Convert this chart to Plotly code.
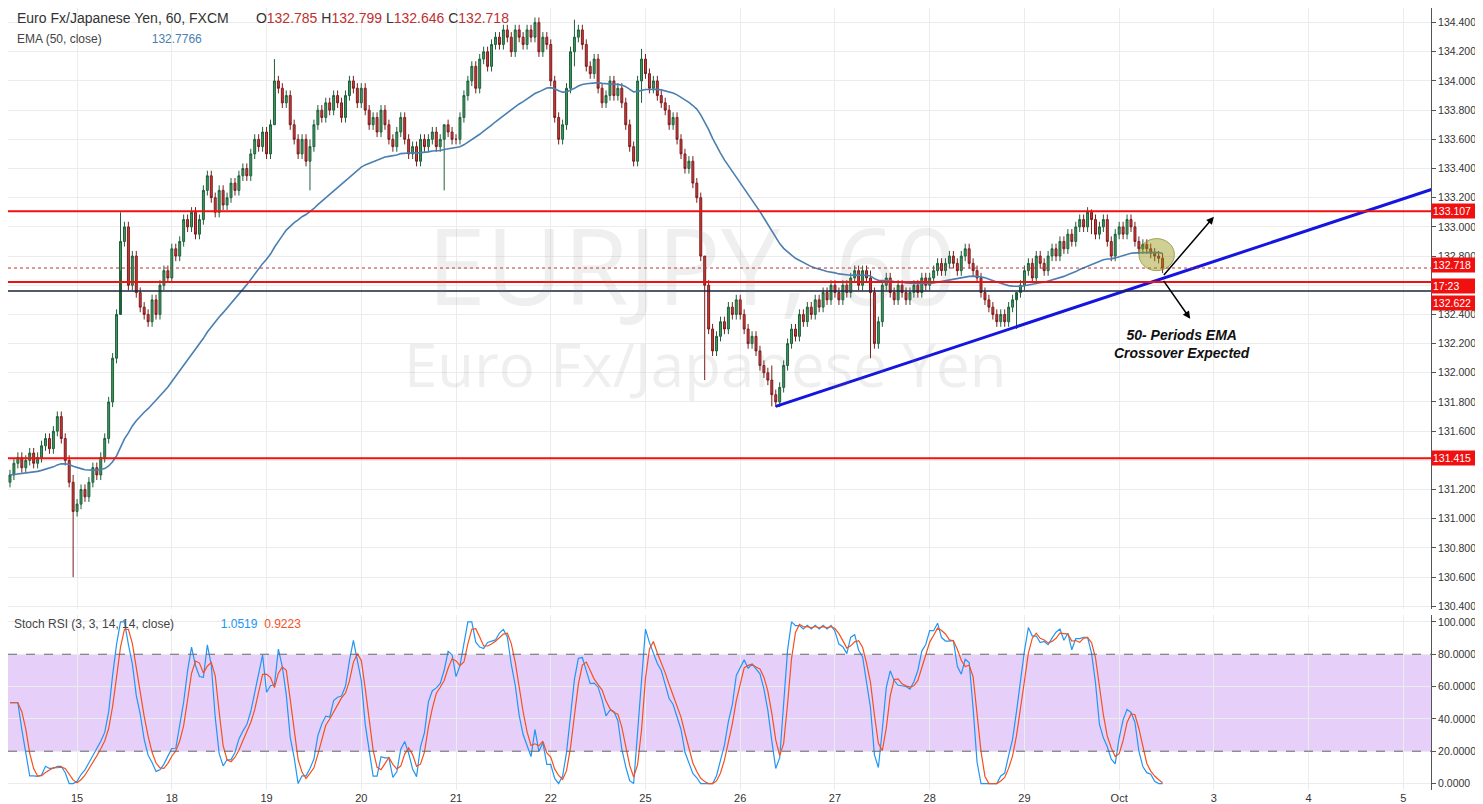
import numpy as np
import pandas as pd
import plotly.graph_objects as go
from plotly.subplots import make_subplots

# hourly closes, EUR/JPY 60 min (index 0 ~ Sep 14 07:00)
closes = [
    131.30, 131.38, 131.42, 131.35, 131.40, 131.45, 131.38, 131.42, 131.50, 131.55, 131.48, 131.60,
    131.70, 131.55, 131.40, 131.25, 131.05,
    131.10, 131.20, 131.15, 131.25, 131.35, 131.30, 131.42, 131.55, 131.80, 132.10, 132.40, 132.90, 133.00,
    132.60, 132.80, 132.55, 132.45, 132.40, 132.35, 132.50, 132.40, 132.60, 132.70, 132.65,
    132.85, 132.80, 132.90, 133.05, 133.00, 133.10, 132.95, 133.05, 133.25, 133.35, 133.20, 133.10,
    133.25, 133.15, 133.20, 133.30, 133.25, 133.35, 133.40, 133.35, 133.50, 133.60, 133.55, 133.65,
    133.50, 133.70, 134.00, 133.95, 133.85, 133.90, 133.70, 133.60, 133.50, 133.60, 133.45, 133.55,
    133.70, 133.80, 133.75, 133.85, 133.80, 133.90, 133.85, 133.75, 133.90, 134.00, 133.95, 133.85,
    133.95, 133.80, 133.70, 133.75, 133.65, 133.80, 133.70, 133.60, 133.55, 133.65, 133.75, 133.60,
    133.50, 133.55, 133.45, 133.60, 133.55, 133.60, 133.65, 133.55, 133.60, 133.70, 133.65, 133.60,
    133.60, 133.75, 133.90, 134.00, 134.10, 133.95, 134.15, 134.20, 134.10, 134.25, 134.30, 134.25,
    134.35, 134.30, 134.20, 134.35, 134.30, 134.25, 134.35, 134.30, 134.40, 134.20, 134.30, 134.25,
    134.00, 133.75, 133.60, 133.70, 133.95, 134.20, 134.30, 134.35, 134.25, 134.10, 134.05, 134.15,
    133.95, 133.85, 133.90, 134.00, 133.90, 133.95, 133.85, 133.70, 133.55, 133.45, 134.00, 134.15,
    134.05, 133.95, 134.00, 133.90, 133.85, 133.80, 133.70, 133.75, 133.60, 133.50, 133.40, 133.45,
    133.30, 133.20, 132.80, 132.60, 132.30, 132.15, 132.25, 132.35, 132.30, 132.45, 132.40, 132.50,
    132.40, 132.30, 132.20, 132.25, 132.15, 132.05, 132.00, 131.95, 131.85, 131.80, 131.90, 132.05,
    132.20, 132.30, 132.25, 132.40, 132.35, 132.45, 132.40, 132.50, 132.45, 132.55, 132.50, 132.60,
    132.55, 132.50, 132.60, 132.55, 132.65, 132.70, 132.60, 132.70, 132.65, 132.55, 132.20, 132.35,
    132.60, 132.65, 132.55, 132.50, 132.60, 132.55, 132.50, 132.55, 132.60, 132.55, 132.65, 132.60,
    132.65, 132.70, 132.75, 132.70, 132.75, 132.80, 132.75, 132.70, 132.80, 132.85, 132.75, 132.70,
    132.65, 132.55, 132.50, 132.45, 132.40, 132.35, 132.40, 132.35, 132.45, 132.50, 132.55, 132.60,
    132.70, 132.75, 132.65, 132.80, 132.75, 132.70, 132.80, 132.85, 132.80, 132.90, 132.85, 132.95,
    132.90, 133.00, 133.05, 133.00, 133.10, 133.05, 132.95, 133.00, 133.05, 132.90, 132.80, 132.95,
    133.00, 132.95, 133.05, 133.00, 132.90, 132.85, 132.88, 132.85, 132.82, 132.80, 132.785, 132.718,
]
first_open = 131.25
wick = 0.035
# extra long wicks: index -> (high, low)
spikes = {16: (131.30, 130.60), 28: (133.10, 132.70), 67: (134.15, 133.70), 76: (133.60, 133.25),
          110: (133.70, 133.25), 143: (134.42, 134.10), 160: (134.22, 133.85), 176: (132.80, 131.95),
          193: (132.05, 131.77), 218: (132.70, 132.10), 255: (132.50, 132.30), 274: (133.12, 132.95)}

day_ticks = [17, 41, 65, 89, 113, 137, 161, 185, 209, 233, 257, 281, 305, 329, 353]
day_labels = ["15", "18", "19", "20", "21", "22", "25", "26", "27", "28", "29", "Oct", "3", "4", "5"]

resistance = 133.107
support_1 = 132.622
support_2 = 131.415
navy_level = 132.56
last_price = 132.718
trend_x = [194, 374]
trend_y = [131.77, 133.38]

price_ticks = [130.4 + 0.2 * i for i in range(21)]
rsi_ticks = [0, 20, 40, 60, 80, 100]

# build candles
c = np.array(closes)
o = np.concatenate([[first_open], c[:-1]])
h = np.maximum(o, c) + wick
l = np.minimum(o, c) - wick
for i, (hi, lo) in spikes.items():
    h[i], l[i] = hi, lo
x = np.arange(len(c))

ema = pd.Series(c).ewm(span=50, adjust=False).mean()

# stoch rsi (3, 3, 14, 14)
delta = pd.Series(c).diff()
gain = delta.clip(lower=0).ewm(alpha=1 / 14, adjust=False).mean()
loss = (-delta.clip(upper=0)).ewm(alpha=1 / 14, adjust=False).mean()
rsi = 100 - 100 / (1 + gain / loss)
lo14 = rsi.rolling(14, min_periods=1).min()
hi14 = rsi.rolling(14, min_periods=1).max()
stoch = ((rsi - lo14) / (hi14 - lo14).replace(0, np.nan) * 100).fillna(50)
k = stoch.rolling(3, min_periods=1).mean()
d = k.rolling(3, min_periods=1).mean()

fig = make_subplots(rows=2, cols=1, shared_xaxes=True, vertical_spacing=0.008,
                    row_heights=[0.775, 0.225])

# stoch rsi band (drawn first so it sits below the lines)
fig.add_shape(type='rect', xref='x2 domain', yref='y2', x0=0, x1=1, y0=20, y1=80,
              fillcolor='rgba(200,150,245,0.45)', line_width=0, layer='below')
for lvl in [20, 80]:
    fig.add_shape(type='line', xref='x2 domain', yref='y2', x0=0, x1=1, y0=lvl, y1=lvl,
                  line=dict(color='#666', width=1, dash='dash'))

fig.add_trace(go.Candlestick(x=x, open=o, high=h, low=l, close=c,
                             increasing=dict(line=dict(color='#1f5f3a', width=1), fillcolor='#3d9a5f'),
                             decreasing=dict(line=dict(color='#7a1d1d', width=1), fillcolor='#d23a3a'),
                             whiskerwidth=0, showlegend=False), row=1, col=1)
fig.add_trace(go.Scatter(x=x, y=ema, mode='lines', line=dict(color='#4a7fb0', width=1.6),
                         showlegend=False, hoverinfo='skip'), row=1, col=1)
fig.add_trace(go.Scatter(x=trend_x, y=trend_y, mode='lines', line=dict(color='#1515e0', width=3),
                         showlegend=False, hoverinfo='skip'), row=1, col=1)

for lvl in [resistance, support_1, support_2]:
    fig.add_hline(y=lvl, line=dict(color='#f01010', width=2), row=1, col=1)
fig.add_hline(y=navy_level, line=dict(color='#1a2340', width=1.5), row=1, col=1)
fig.add_hline(y=last_price, line=dict(color='#c03030', width=1, dash='dot'), row=1, col=1)

# highlight ellipse
fig.add_shape(type='circle', x0=286, x1=295, y0=132.70, y1=132.92, xref='x', yref='y',
              fillcolor='rgba(150,150,20,0.45)', line=dict(color='rgba(120,120,20,0.6)', width=1))
fig.add_annotation(x=305, y=133.07, ax=292, ay=132.66, xref='x', yref='y', axref='x', ayref='y',
                   showarrow=True, arrowhead=2, arrowwidth=1.5, arrowcolor='black', text='')
fig.add_annotation(x=299, y=132.37, ax=292, ay=132.64, xref='x', yref='y', axref='x', ayref='y',
                   showarrow=True, arrowhead=2, arrowwidth=1.5, arrowcolor='black', text='')
fig.add_annotation(x=297, y=132.33, xref='x', yref='y', showarrow=False, yanchor='top',
                   text='<b><i>50- Periods EMA<br>Crossover Expected</i></b>',
                   font=dict(size=14, color='#111', family='Liberation Sans'))

# watermark
fig.add_annotation(x=0.48, y=0.767, xref='paper', yref='paper', showarrow=False, text='EURJPY, 60',
                   font=dict(size=106, color='rgba(120,120,120,0.12)', family='Open Sans'))
fig.add_annotation(x=0.49, y=0.545, xref='paper', yref='paper', showarrow=False, text='Euro Fx/Japanese Yen',
                   font=dict(size=60, color='rgba(120,120,120,0.12)', family='Open Sans'))

# legends
fig.add_annotation(x=0.005, y=1.0, xref='paper', yref='paper', showarrow=False, xanchor='left', yanchor='top',
                   text='Euro Fx/Japanese Yen, 60, FXCM &nbsp;&nbsp;&nbsp;&nbsp;&nbsp; O<span style="color:#c03030">132.785</span> '
                        'H<span style="color:#c03030">132.799</span> L<span style="color:#c03030">132.646</span> '
                        'C<span style="color:#c03030">132.718</span>',
                   font=dict(size=14, color='#333', family='Liberation Sans'))
fig.add_annotation(x=0.005, y=0.972, xref='paper', yref='paper', showarrow=False, xanchor='left', yanchor='top',
                   text='EMA (50, close) &nbsp;&nbsp;&nbsp;&nbsp;&nbsp;&nbsp;&nbsp;&nbsp;&nbsp;&nbsp;&nbsp;&nbsp;&nbsp; <span style="color:#4a7fb0">132.7766</span>',
                   font=dict(size=12, color='#444', family='Liberation Sans'))
fig.add_annotation(x=0.003, y=0.224, xref='paper', yref='paper', showarrow=False, xanchor='left', yanchor='top',
                   text='Stoch RSI (3, 3, 14, 14, close) &nbsp;&nbsp;&nbsp;&nbsp;&nbsp;&nbsp;&nbsp;&nbsp;&nbsp;&nbsp;&nbsp;&nbsp; '
                        '<span style="color:#2196f3">1.0519</span> &nbsp;<span style="color:#f4511e">0.9223</span>',
                   font=dict(size=12, color='#444', family='Liberation Sans'))

# price labels on the right axis
for val, txt in [(resistance, '133.107'), (last_price + 0.02, '132.718'), (support_1 - 0.03, '17:23'),
                 (support_1 - 0.145, '132.622'), (support_2, '131.415')]:
    fig.add_annotation(x=1.0, y=val, xref='paper', yref='y', xanchor='left', showarrow=False, text=txt,
                       bgcolor='#f01010', font=dict(color='white', size=10.5, family='Liberation Sans'),
                       borderpad=1, width=52, align='left')

fig.add_trace(go.Scatter(x=x, y=k, mode='lines', line=dict(color='#2196f3', width=1.2),
                         showlegend=False), row=2, col=1)
fig.add_trace(go.Scatter(x=x, y=d, mode='lines', line=dict(color='#f4511e', width=1.2),
                         showlegend=False), row=2, col=1)

grid = '#ececec'
fig.update_xaxes(range=[-0.5, 360], showgrid=True, gridcolor=grid, tickvals=day_ticks, ticktext=day_labels,
                 rangeslider_visible=False, showline=False, zeroline=False,
                 tickfont=dict(size=11, color='#333', family='Liberation Sans'))
fig.update_xaxes(showticklabels=False, row=1, col=1)
fig.update_yaxes(side='right', showgrid=True, gridcolor=grid, zeroline=False, ticks='outside', ticklen=4,
                 tickcolor='#555', showline=True, linecolor='#555',
                 tickfont=dict(size=10.5, color='#333', family='Liberation Sans'))
fig.update_yaxes(range=[130.38, 134.5], tickvals=price_ticks, ticktext=['%.3f' % v for v in price_ticks],
                 row=1, col=1)
fig.update_yaxes(range=[-4, 104], tickvals=rsi_ticks, ticktext=['%.4f' % v for v in rsi_ticks],
                 row=2, col=1)

fig.update_layout(width=1483, height=804, margin=dict(l=0, r=60, t=0, b=22),
                  plot_bgcolor='white', paper_bgcolor='white', hovermode=False)

fig.write_html("out.html")
